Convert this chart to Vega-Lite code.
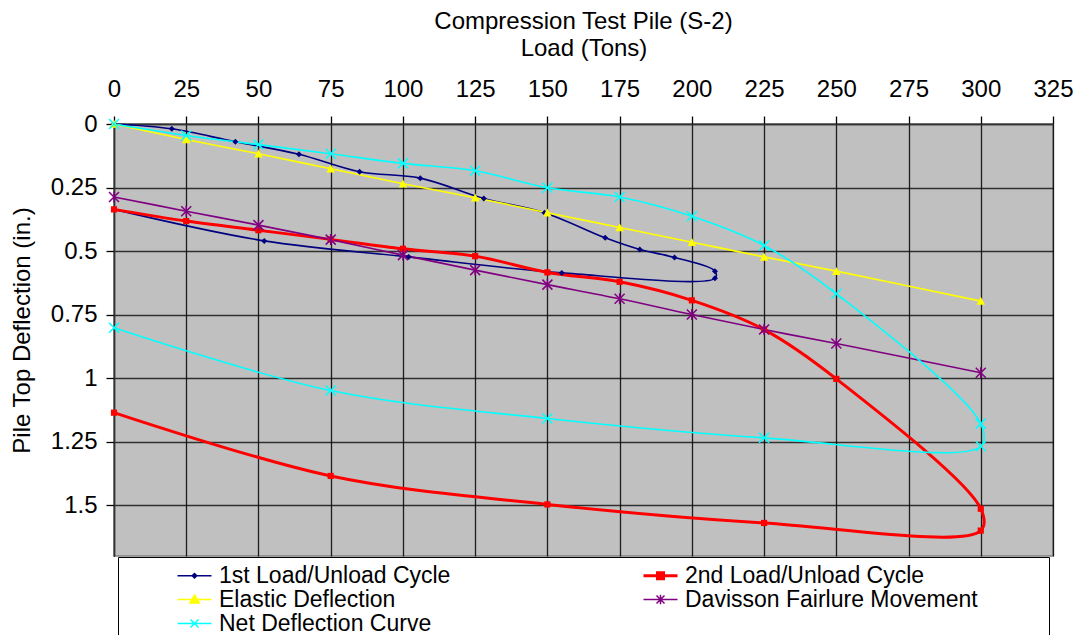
{
  "$schema": "https://vega.github.io/schema/vega-lite/v6.json",
  "width": 939,
  "height": 432,
  "autosize": {"type": "none"},
  "padding": {"left": 114, "top": 124, "right": 27, "bottom": 79},
  "background": "white",
  "title": {"text": "Compression Test Pile (S-2)", "fontSize": 24, "fontWeight": "normal", "font": "Liberation Sans", "anchor": "middle", "offset": 2, "color": "black"},
  "config": {
    "view": {"fill": "#C0C0C0", "stroke": "#808080", "strokeWidth": 1.5},
    "font": "Liberation Sans"
  },
  "data": {"values": [
    {"series": "1st Load/Unload Cycle", "seq": 1, "load": 0, "deflection": 0},
    {"series": "1st Load/Unload Cycle", "seq": 2, "load": 20, "deflection": 0.019},
    {"series": "1st Load/Unload Cycle", "seq": 3, "load": 42, "deflection": 0.070},
    {"series": "1st Load/Unload Cycle", "seq": 4, "load": 64, "deflection": 0.119},
    {"series": "1st Load/Unload Cycle", "seq": 5, "load": 85, "deflection": 0.188},
    {"series": "1st Load/Unload Cycle", "seq": 6, "load": 106, "deflection": 0.213},
    {"series": "1st Load/Unload Cycle", "seq": 7, "load": 128, "deflection": 0.293},
    {"series": "1st Load/Unload Cycle", "seq": 8, "load": 149, "deflection": 0.349},
    {"series": "1st Load/Unload Cycle", "seq": 9, "load": 170, "deflection": 0.448},
    {"series": "1st Load/Unload Cycle", "seq": 10, "load": 182, "deflection": 0.494},
    {"series": "1st Load/Unload Cycle", "seq": 11, "load": 194, "deflection": 0.525},
    {"series": "1st Load/Unload Cycle", "seq": 12, "load": 208, "deflection": 0.579},
    {"series": "1st Load/Unload Cycle", "seq": 13, "load": 208, "deflection": 0.607},
    {"series": "1st Load/Unload Cycle", "seq": 14, "load": 155, "deflection": 0.586},
    {"series": "1st Load/Unload Cycle", "seq": 15, "load": 102, "deflection": 0.523},
    {"series": "1st Load/Unload Cycle", "seq": 16, "load": 52, "deflection": 0.460},
    {"series": "1st Load/Unload Cycle", "seq": 17, "load": 0, "deflection": 0.336},
    {"series": "2nd Load/Unload Cycle", "seq": 1, "load": 0, "deflection": 0.336},
    {"series": "2nd Load/Unload Cycle", "seq": 2, "load": 25, "deflection": 0.382},
    {"series": "2nd Load/Unload Cycle", "seq": 3, "load": 50, "deflection": 0.418},
    {"series": "2nd Load/Unload Cycle", "seq": 4, "load": 75, "deflection": 0.454},
    {"series": "2nd Load/Unload Cycle", "seq": 5, "load": 100, "deflection": 0.491},
    {"series": "2nd Load/Unload Cycle", "seq": 6, "load": 125, "deflection": 0.520},
    {"series": "2nd Load/Unload Cycle", "seq": 7, "load": 150, "deflection": 0.584},
    {"series": "2nd Load/Unload Cycle", "seq": 8, "load": 175, "deflection": 0.621},
    {"series": "2nd Load/Unload Cycle", "seq": 9, "load": 200, "deflection": 0.694},
    {"series": "2nd Load/Unload Cycle", "seq": 10, "load": 225, "deflection": 0.809},
    {"series": "2nd Load/Unload Cycle", "seq": 11, "load": 250, "deflection": 1.003},
    {"series": "2nd Load/Unload Cycle", "seq": 12, "load": 300, "deflection": 1.514},
    {"series": "2nd Load/Unload Cycle", "seq": 13, "load": 300, "deflection": 1.600},
    {"series": "2nd Load/Unload Cycle", "seq": 14, "load": 225, "deflection": 1.570},
    {"series": "2nd Load/Unload Cycle", "seq": 15, "load": 150, "deflection": 1.497},
    {"series": "2nd Load/Unload Cycle", "seq": 16, "load": 75, "deflection": 1.385},
    {"series": "2nd Load/Unload Cycle", "seq": 17, "load": 0, "deflection": 1.136},
    {"series": "Elastic Deflection", "seq": 1, "load": 0, "deflection": 0},
    {"series": "Elastic Deflection", "seq": 2, "load": 25, "deflection": 0.061},
    {"series": "Elastic Deflection", "seq": 3, "load": 50, "deflection": 0.117},
    {"series": "Elastic Deflection", "seq": 4, "load": 75, "deflection": 0.176},
    {"series": "Elastic Deflection", "seq": 5, "load": 100, "deflection": 0.235},
    {"series": "Elastic Deflection", "seq": 6, "load": 125, "deflection": 0.290},
    {"series": "Elastic Deflection", "seq": 7, "load": 150, "deflection": 0.349},
    {"series": "Elastic Deflection", "seq": 8, "load": 175, "deflection": 0.407},
    {"series": "Elastic Deflection", "seq": 9, "load": 200, "deflection": 0.465},
    {"series": "Elastic Deflection", "seq": 10, "load": 225, "deflection": 0.523},
    {"series": "Elastic Deflection", "seq": 11, "load": 250, "deflection": 0.579},
    {"series": "Elastic Deflection", "seq": 12, "load": 300, "deflection": 0.697},
    {"series": "Davisson Fairlure Movement", "seq": 1, "load": 0, "deflection": 0.287},
    {"series": "Davisson Fairlure Movement", "seq": 2, "load": 25, "deflection": 0.343},
    {"series": "Davisson Fairlure Movement", "seq": 3, "load": 50, "deflection": 0.398},
    {"series": "Davisson Fairlure Movement", "seq": 4, "load": 75, "deflection": 0.455},
    {"series": "Davisson Fairlure Movement", "seq": 5, "load": 100, "deflection": 0.516},
    {"series": "Davisson Fairlure Movement", "seq": 6, "load": 125, "deflection": 0.575},
    {"series": "Davisson Fairlure Movement", "seq": 7, "load": 150, "deflection": 0.632},
    {"series": "Davisson Fairlure Movement", "seq": 8, "load": 175, "deflection": 0.688},
    {"series": "Davisson Fairlure Movement", "seq": 9, "load": 200, "deflection": 0.750},
    {"series": "Davisson Fairlure Movement", "seq": 10, "load": 225, "deflection": 0.809},
    {"series": "Davisson Fairlure Movement", "seq": 11, "load": 250, "deflection": 0.864},
    {"series": "Davisson Fairlure Movement", "seq": 12, "load": 300, "deflection": 0.979},
    {"series": "Net Deflection Curve", "seq": 1, "load": 0, "deflection": 0},
    {"series": "Net Deflection Curve", "seq": 2, "load": 25, "deflection": 0.045},
    {"series": "Net Deflection Curve", "seq": 3, "load": 50, "deflection": 0.081},
    {"series": "Net Deflection Curve", "seq": 4, "load": 75, "deflection": 0.117},
    {"series": "Net Deflection Curve", "seq": 5, "load": 100, "deflection": 0.155},
    {"series": "Net Deflection Curve", "seq": 6, "load": 125, "deflection": 0.184},
    {"series": "Net Deflection Curve", "seq": 7, "load": 150, "deflection": 0.251},
    {"series": "Net Deflection Curve", "seq": 8, "load": 175, "deflection": 0.287},
    {"series": "Net Deflection Curve", "seq": 9, "load": 200, "deflection": 0.363},
    {"series": "Net Deflection Curve", "seq": 10, "load": 225, "deflection": 0.478},
    {"series": "Net Deflection Curve", "seq": 11, "load": 250, "deflection": 0.668},
    {"series": "Net Deflection Curve", "seq": 12, "load": 300, "deflection": 1.179},
    {"series": "Net Deflection Curve", "seq": 13, "load": 300, "deflection": 1.268},
    {"series": "Net Deflection Curve", "seq": 14, "load": 225, "deflection": 1.235},
    {"series": "Net Deflection Curve", "seq": 15, "load": 150, "deflection": 1.159},
    {"series": "Net Deflection Curve", "seq": 16, "load": 75, "deflection": 1.049},
    {"series": "Net Deflection Curve", "seq": 17, "load": 0, "deflection": 0.802}
  ]},
  "encoding": {
    "x": {
      "field": "load", "type": "quantitative",
      "scale": {"domain": [0, 325], "nice": false, "zero": false},
      "axis": {
        "orient": "top",
        "values": [0, 25, 50, 75, 100, 125, 150, 175, 200, 225, 250, 275, 300, 325],
        "grid": true, "gridColor": "#000000", "gridWidth": 1.3, "gridOpacity": 0.85,
        "tickSize": 8, "tickColor": "#000000", "tickWidth": 1.3,
        "domainColor": "#333333", "domainWidth": 1.5,
        "labelFontSize": 24, "labelFont": "Liberation Sans", "labelColor": "black",
        "labelPadding": 15, "labelFlush": false, "labelOverlap": false,
        "title": "Load (Tons)", "titleFontSize": 24, "titleFontWeight": "normal",
        "titleFont": "Liberation Sans", "titleColor": "black", "titlePadding": 17
      }
    },
    "y": {
      "field": "deflection", "type": "quantitative",
      "scale": {"domain": [0, 1.7], "nice": false, "reverse": true},
      "axis": {
        "values": [0, 0.25, 0.5, 0.75, 1, 1.25, 1.5],
        "format": ".3~g",
        "grid": true, "gridColor": "#000000", "gridWidth": 1.3, "gridOpacity": 0.75,
        "tickSize": 8, "tickColor": "#000000", "tickWidth": 1.3,
        "domainColor": "#333333", "domainWidth": 1.5,
        "labelFontSize": 24, "labelFont": "Liberation Sans", "labelColor": "black",
        "labelPadding": 9, "labelFlush": false, "labelOverlap": false,
        "title": "Pile Top Deflection (in.)", "titleFontSize": 24, "titleFontWeight": "normal",
        "titleFont": "Liberation Sans", "titleColor": "black", "titlePadding": 16, "titleY": 206
      }
    },
    "order": {"field": "seq", "type": "quantitative"}
  },
  "layer": [
    {
      "mark": {"type": "line", "interpolate": "catmull-rom"},
      "encoding": {
        "color": {
          "field": "series", "type": "nominal",
          "scale": {
            "domain": ["1st Load/Unload Cycle", "2nd Load/Unload Cycle", "Elastic Deflection", "Davisson Fairlure Movement", "Net Deflection Curve"],
            "range": ["#000080", "#FF0000", "#FFFF00", "#800080", "#00FFFF"]
          },
          "legend": {
            "orient": "none", "legendX": 4, "legendY": 433,
            "columns": 2, "direction": "horizontal",
            "title": " ", "titleOrient": "right", "titlePadding": 64, "titleFontSize": 23,
            "padding": 7, "strokeColor": "#000000", "fillColor": "#FFFFFF",
            "labelFontSize": 23, "labelFont": "Liberation Sans", "labelColor": "#000000", "labelLimit": 500,
            "symbolSize": 100, "symbolOffset": 58, "labelOffset": 13,
            "columnPadding": 140, "rowPadding": 0,
            "encode": {
              "symbols": {
                "update": {
                  "shape": {"signal": "datum.value === '1st Load/Unload Cycle' ? 'M-3.4,0H3.4M0,-0.45L0.45,0L0,0.45L-0.45,0Z' : datum.value === '2nd Load/Unload Cycle' ? 'M-3.4,0H3.4M-0.6,-0.6H0.6V0.6H-0.6Z' : datum.value === 'Elastic Deflection' ? 'M-3.4,0H3.4M0,-0.9L0.95,0.7H-0.95Z' : datum.value === 'Davisson Fairlure Movement' ? 'M-3.4,0H3.4M-0.8,-0.8L0.8,0.8M-0.8,0.8L0.8,-0.8M0,-0.95V0.95' : 'M-3.4,0H3.4M-0.8,-0.8L0.8,0.8M-0.8,0.8L0.8,-0.8'"},
                  "fill": {"scale": "color", "field": "value"},
                  "stroke": {"scale": "color", "field": "value"},
                  "strokeWidth": {"signal": "datum.value === '2nd Load/Unload Cycle' ? 3 : 1.5"},
                  "opacity": {"value": 1},
                  "fillOpacity": {"value": 1},
                  "strokeOpacity": {"value": 1}
                }
              }
            }
          }
        },
        "strokeWidth": {"condition": {"test": "datum.series === '2nd Load/Unload Cycle'", "value": 3}, "value": 1.6}
      }
    },
    {
      "transform": [{"filter": "datum.series === '1st Load/Unload Cycle'"}],
      "mark": {"type": "point", "filled": true, "opacity": 1, "size": 100, "shape": "M0,-0.6L0.6,0L0,0.6L-0.6,0Z"},
      "encoding": {"color": {"field": "series", "type": "nominal", "legend": null}}
    },
    {
      "transform": [{"filter": "datum.series === '2nd Load/Unload Cycle'"}],
      "mark": {"type": "point", "filled": true, "opacity": 1, "size": 100, "shape": "M-0.62,-0.62H0.62V0.62H-0.62Z"},
      "encoding": {"color": {"field": "series", "type": "nominal", "legend": null}}
    },
    {
      "transform": [{"filter": "datum.series === 'Elastic Deflection'"}],
      "mark": {"type": "point", "filled": true, "opacity": 1, "size": 100, "shape": "M0,-0.85L0.85,0.75H-0.85Z"},
      "encoding": {"color": {"field": "series", "type": "nominal", "legend": null}}
    },
    {
      "transform": [{"filter": "datum.series === 'Davisson Fairlure Movement'"}],
      "mark": {"type": "point", "filled": false, "opacity": 1, "size": 100, "strokeWidth": 1.5, "shape": "M-1,-1L1,1M-1,1L1,-1M0,-1.1V1.1"},
      "encoding": {"color": {"field": "series", "type": "nominal", "legend": null}}
    },
    {
      "transform": [{"filter": "datum.series === 'Net Deflection Curve'"}],
      "mark": {"type": "point", "filled": false, "opacity": 1, "size": 100, "strokeWidth": 1.5, "shape": "M-1,-1L1,1M-1,1L1,-1"},
      "encoding": {"color": {"field": "series", "type": "nominal", "legend": null}}
    }
  ]
}
